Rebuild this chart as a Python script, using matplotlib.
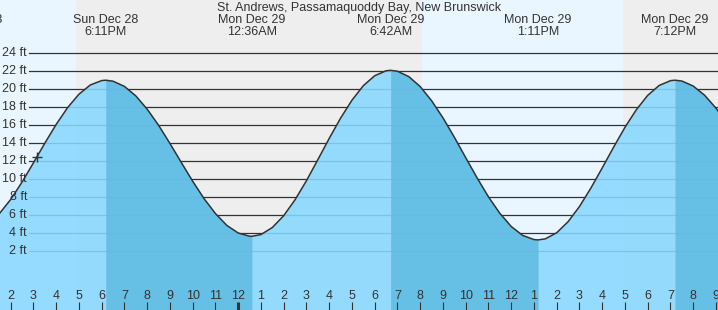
import matplotlib
matplotlib.use("Agg")
import matplotlib.pyplot as plt
import matplotlib.transforms as mtransforms
import numpy as np

# ---- data (hours since Sun Dec 28 00:00, heights in ft) ----
times = [13.5, 14.0, 14.5, 15.0, 15.5, 16.0, 16.5, 17.0, 17.5, 18.0, 18.18,
         18.5, 19.0, 19.5, 20.0, 20.5, 21.0, 21.5, 22.0, 22.5, 23.0, 23.5, 24.0, 24.5, 24.6,
         25.0, 25.5, 26.0, 26.5, 27.0, 27.5, 28.0, 28.5, 29.0, 29.5, 30.0, 30.5, 30.7,
         31.0, 31.5, 32.0, 32.5, 33.0, 33.5, 34.0, 34.5, 35.0, 35.5, 36.0, 36.5, 37.0, 37.18,
         37.5, 38.0, 38.5, 39.0, 39.5, 40.0, 40.5, 41.0, 41.5, 42.0, 42.5, 43.0, 43.2,
         43.5, 44.0, 44.5, 45.0, 45.5]
heights = [6.12, 7.71, 9.65, 11.79, 13.98, 16.08, 17.94, 19.44, 20.47, 20.96, 21.0,
           20.89, 20.31, 19.25, 17.77, 15.98, 13.95, 11.83, 9.74, 7.80, 6.14, 4.82, 3.97, 3.61, 3.6,
           3.80, 4.58, 5.90, 7.68, 9.80, 12.14, 14.51, 16.77, 18.77, 20.39, 21.50, 22.05, 22.1,
           22.0, 21.40, 20.29, 18.72, 16.81, 14.65, 12.37, 10.12, 8.00, 6.17, 4.70, 3.71, 3.24, 3.2,
           3.32, 4.00, 5.23, 6.92, 8.97, 11.22, 13.53, 15.75, 17.71, 19.31, 20.41, 20.95, 21.0,
           20.91, 20.35, 19.33, 17.89, 16.14]

extreme_times = [12.2, 18.18, 24.6, 30.7, 37.18, 43.2]
extreme_labels = ["Sun Dec 28\n12:12PM", "Sun Dec 28\n6:11PM", "Mon Dec 29\n12:36AM",
                  "Mon Dec 29\n6:42AM", "Mon Dec 29\n1:11PM", "Mon Dec 29\n7:12PM"]
# falling-tide intervals (high -> low)
falling = [(18.18, 24.6), (30.7, 37.18), (43.2, 45.5)]
# daylight intervals
sun_events = [(13.0, 16.87, "day"), (16.87, 32.07, "night"), (32.07, 40.91, "day"), (40.91, 46.0, "night")]
grid_ft = list(range(2, 26, 2))
hour_ticks = list(range(14, 46))
now_time, now_height = 15.16, 12.4
title = "St. Andrews, Passamaquoddy Bay, New Brunswick"

# ---- figure ----
W, H = 718, 310
fig = plt.figure(figsize=(W / 100, H / 100), dpi=100)
ax = fig.add_axes([0, 0, 1, 1])
ax.set_xlim(13.53, 45.09)
ax.set_ylim(-4.61, 29.94)
ax.axis("off")

txt = "#333333"
font = "Liberation Sans"
fs = 9.0

for a, b, kind in sun_events:
    ax.axvspan(a, b, color="#eaf6ff" if kind == "day" else "#eeeeee", zorder=0, lw=0)

for ft in grid_ft:
    ax.axhline(ft, xmin=29.3 / W, xmax=1, color="#333333", lw=0.9, zorder=1)
    ax.text(27 / W, ft, f"{ft} ft", transform=mtransforms.blended_transform_factory(ax.transAxes, ax.transData),
            ha="right", va="center", fontsize=fs, color=txt, family=font, zorder=5)

t = np.array(times)
h = np.array(heights)
ax.fill_between(t, -10, h, color="#87d8ff", alpha=0.87, lw=0, zorder=2)
for a, b in falling:
    m = (t >= a) & (t <= b)
    ax.fill_between(t[m], -10, h[m], color="#60bbe2", alpha=0.87, lw=0, zorder=3)
ax.plot(t, h, color="#333333", lw=1.1, zorder=4, solid_capstyle="round")
ax.plot([now_time], [now_height], marker="+", ms=7, mew=1, color="#333333", zorder=6)

# hour ticks
tr = mtransforms.blended_transform_factory(ax.transData, ax.transAxes)
for hr in hour_ticks:
    lab = hr % 12 or 12
    lw = 2.2 if hr % 24 == 0 else 0.8
    ax.plot([hr, hr], [0, 8 / H], color="#333333", lw=lw, transform=tr, zorder=6, solid_capstyle="butt")
    ax.text(hr, 1 - 296 / H, str(lab), transform=tr, ha="center", va="center",
            fontsize=fs, color=txt, family=font, zorder=6)

# top labels
trf = mtransforms.blended_transform_factory(ax.transData, fig.transFigure)
for et, el in zip(extreme_times, extreme_labels):
    l1, l2 = el.split("\n")
    ax.text(et, 1 - 20 / H, l1, transform=trf, ha="center", va="center", fontsize=fs, color=txt, family=font)
    ax.text(et, 1 - 32 / H, l2, transform=trf, ha="center", va="center", fontsize=fs, color=txt, family=font)

fig.text(359 / W, 1 - 8 / H, title, ha="center", va="center", fontsize=fs, color=txt, family=font)

fig.savefig("out.png", dpi=100)
